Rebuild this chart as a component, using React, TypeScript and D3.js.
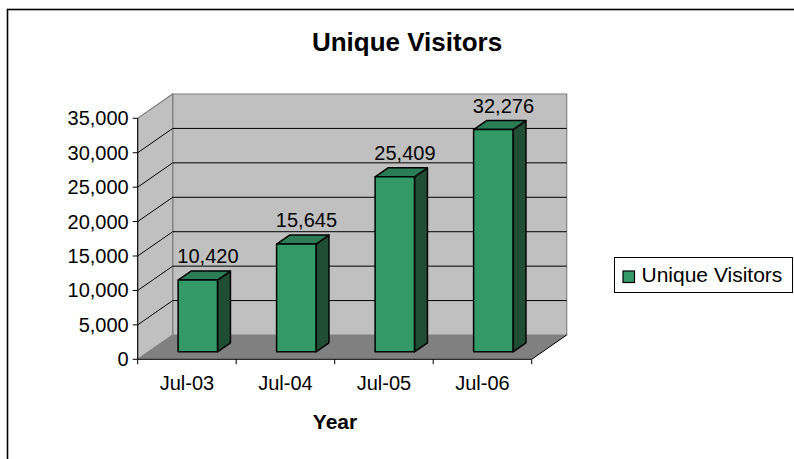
import React from "react";
import * as d3 from "d3";

const categories = ["Jul-03", "Jul-04", "Jul-05", "Jul-06"];
const visitors = [10420, 15645, 25409, 32276];
const yTicks = [0, 5000, 10000, 15000, 20000, 25000, 30000, 35000];
const seriesName = "Unique Visitors";
const chartTitle = "Unique Visitors";
const xTitle = "Year";

const W = 794;
const H = 459;
const FONT = "'Liberation Sans', Arial, sans-serif";
const DX = 35;
const DY = 24.3;
const X0 = 137.7;
const X1 = 531.7;
const Y0 = 359.3;
const Y1 = 118.3;
const Z_FRONT = 0.31;
const Z_BACK = 0.68;

const FRONT = "#339966";
const TOP = "#2a7d54";
const SIDE = "#1f4e35";

export default function App() {
  const x = d3.scaleBand<string>().domain(categories).range([X0, X1]).padding(0);
  const y = d3.scaleLinear().domain([0, 35000]).range([Y0, Y1]);
  const fmt = d3.format(",");
  const P = (px: number, py: number, z: number) => [px + z * DX, py - z * DY];
  const poly = (pts: number[][]) => pts.map((p) => p.join(",")).join(" ");

  const yTop = y(35000);
  const bw = x.bandwidth();

  return (
    <svg
      width={W}
      height={H}
      style={{ position: "absolute", left: 0, top: 0, background: "#fff" }}
      fontFamily={FONT}
    >
      <rect x={0} y={0} width={W} height={H} fill="#fff" />
      <rect x={7.5} y={9.5} width={900} height={700} fill="none" stroke="#000" strokeWidth={1.6} />

      <text x={407} y={51} textAnchor="middle" fontSize={26} fontWeight="bold">
        {chartTitle}
      </text>

      {/* back wall */}
      <polygon
        points={poly([P(X0, Y0, 1), P(X1, Y0, 1), P(X1, yTop, 1), P(X0, yTop, 1)])}
        fill="#c0c0c0"
        stroke="#808080"
        strokeWidth={1.2}
      />
      {/* side wall */}
      <polygon
        points={poly([P(X0, Y0, 0), P(X0, Y0, 1), P(X0, yTop, 1), P(X0, yTop, 0)])}
        fill="#c0c0c0"
        stroke="#808080"
        strokeWidth={1.2}
      />
      {/* gridlines */}
      {yTicks.filter((t) => t > 0 && t < 35000).map((t) => {
        const a = P(X0, y(t), 0);
        const b = P(X0, y(t), 1);
        const c = P(X1, y(t), 1);
        return (
          <polyline key={t} points={poly([a, b, c])} fill="none" stroke="#000" strokeWidth={1} />
        );
      })}
      {/* floor */}
      <polygon
        points={poly([P(X0, Y0, 0), P(X1, Y0, 0), P(X1, Y0, 1), P(X0, Y0, 1)])}
        fill="#808080"
        stroke="none"
      />
      <line x1={P(X1, Y0, 0)[0]} y1={P(X1, Y0, 0)[1]} x2={P(X1, Y0, 1)[0]} y2={P(X1, Y0, 1)[1]} stroke="#000" strokeWidth={1} />

      {/* bars */}
      {categories.map((c, i) => {
        const v = visitors[i];
        const bx0 = (x(c) as number) + bw * 0.3;
        const bx1 = (x(c) as number) + bw * 0.7;
        const yb = y(0);
        const yt = y(v);
        const front = [P(bx0, yb, Z_FRONT), P(bx1, yb, Z_FRONT), P(bx1, yt, Z_FRONT), P(bx0, yt, Z_FRONT)];
        const side = [P(bx1, yb, Z_FRONT), P(bx1, yb, Z_BACK), P(bx1, yt, Z_BACK), P(bx1, yt, Z_FRONT)];
        const top = [P(bx0, yt, Z_FRONT), P(bx1, yt, Z_FRONT), P(bx1, yt, Z_BACK), P(bx0, yt, Z_BACK)];
        const lbl = P((x(c) as number) + bw / 2, yt, 0.6);
        const backTopY = P(0, yt, Z_BACK)[1];
        return (
          <g key={c}>
            <polygon points={poly(side)} fill={SIDE} stroke="#000" strokeWidth={1.5} strokeLinejoin="round" />
            <polygon points={poly(top)} fill={TOP} stroke="#000" strokeWidth={1.5} strokeLinejoin="round" />
            <polygon points={poly(front)} fill={FRONT} stroke="#000" strokeWidth={1.5} strokeLinejoin="round" />
            <text x={lbl[0]} y={backTopY - 8} textAnchor="middle" fontSize={20}>
              {fmt(v)}
            </text>
          </g>
        );
      })}

      {/* y axis */}
      <line x1={X0} y1={Y0} x2={X0} y2={yTop} stroke="#000" strokeWidth={1} />
      {yTicks.map((t) => (
        <g key={t}>
          <line x1={X0 - 5} x2={X0} y1={y(t)} y2={y(t)} stroke="#000" strokeWidth={1} />
          <text x={X0 - 9} y={y(t) + 7} textAnchor="end" fontSize={20}>
            {fmt(t)}
          </text>
        </g>
      ))}

      {/* x axis */}
      <line x1={X0} y1={Y0} x2={X1} y2={Y0} stroke="#000" strokeWidth={1} />
      {[...categories.map((c) => x(c) as number), X1].map((px, i) => (
        <line key={i} x1={px} x2={px} y1={Y0} y2={Y0 + 5} stroke="#000" strokeWidth={1} />
      ))}
      {categories.map((c) => (
        <text key={c} x={(x(c) as number) + bw / 2} y={390} textAnchor="middle" fontSize={20}>
          {c}
        </text>
      ))}
      <text x={335} y={429} textAnchor="middle" fontSize={21} fontWeight="bold">
        {xTitle}
      </text>

      {/* legend */}
      <rect x={614.5} y={257.5} width={178} height={35} fill="#fff" stroke="#000" strokeWidth={1} />
      <rect x={623} y={271} width={11.5} height={11.5} fill={FRONT} stroke="#000" strokeWidth={1.2} />
      <text x={641.5} y={282} fontSize={21}>
        {seriesName}
      </text>
    </svg>
  );
}
